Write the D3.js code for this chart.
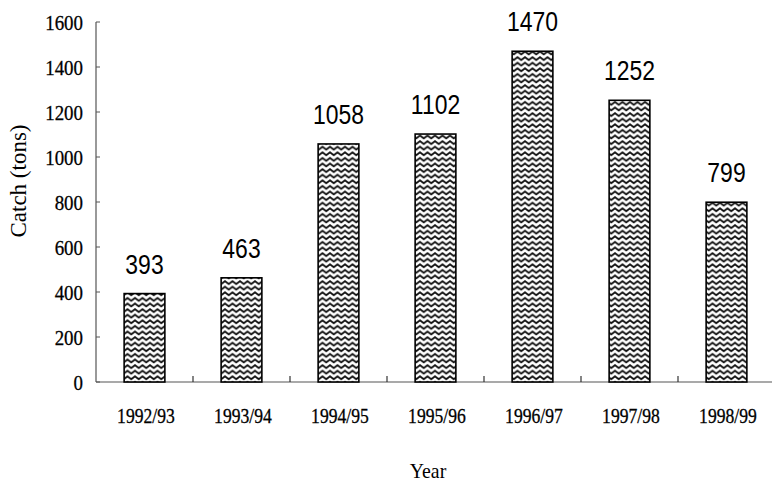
<!DOCTYPE html>
<html><head><meta charset="utf-8">
<script src="https://cdn.jsdelivr.net/npm/d3@7"></script>
<style>body{margin:0;background:#fff}svg{display:block}</style>
</head><body>
<script>
const categories = ["1992/93","1993/94","1994/95","1995/96","1996/97","1997/98","1998/99"];
const catch_tons = [393,463,1058,1102,1470,1252,799];
const yTicks = [0,200,400,600,800,1000,1200,1400,1600];

const W = 772, H = 483;
const svg = d3.select("body").append("svg").attr("width",W).attr("height",H);
const defs = svg.append("defs");
const pat = defs.append("pattern").attr("id","zig").attr("patternUnits","userSpaceOnUse")
  .attr("width",7.5).attr("height",5.6);
pat.append("rect").attr("width",7.5).attr("height",5.6).attr("fill","#fff");
pat.append("path").attr("d","M-3.75,4 L0,1.2 L3.75,4 L7.5,1.2 L11.25,4")
  .attr("fill","none").attr("stroke","#111").attr("stroke-width",1.9);

const x = d3.scaleBand().domain(categories).range([96,775]).paddingInner(0.58).paddingOuter(0.29);
const xb = d3.scaleBand().domain(categories).range([96,775]);
const y = d3.scaleLinear().domain([0,1600]).range([382,22]);

const serif = "'Liberation Serif','Times New Roman',serif";
const sans = "'Liberation Sans',Arial,sans-serif";

// axes
svg.append("line").attr("x1",96).attr("x2",96).attr("y1",y(1600)).attr("y2",y(0)).attr("stroke","#555").attr("stroke-width",1.2);
svg.append("line").attr("x1",96).attr("x2",772).attr("y1",y(0)).attr("y2",y(0)).attr("stroke","#555").attr("stroke-width",1.2);
svg.selectAll(".yt").data(yTicks).enter().append("line")
  .attr("x1",96).attr("x2",100).attr("y1",d=>y(d)).attr("y2",d=>y(d)).attr("stroke","#555");
svg.selectAll(".xt").data(categories.slice(1)).enter().append("line")
  .attr("x1",d=>xb(d)).attr("x2",d=>xb(d)).attr("y1",y(0)).attr("y2",y(0)-6).attr("stroke","#333").attr("stroke-width",1.2);

svg.selectAll(".yl").data(yTicks).enter().append("text")
  .attr("transform",d=>`translate(83,${y(d)+7.5}) scale(0.86,1)`)
  .attr("text-anchor","end").attr("font-family",serif).attr("font-size",22)
  .attr("stroke","#000").attr("stroke-width",0.3)
  .text(d=>d);

svg.selectAll(".xl").data(categories).enter().append("text")
  .attr("transform",d=>`translate(${xb(d)+xb.bandwidth()/2+1.5},423) scale(0.84,1)`)
  .attr("text-anchor","middle").attr("font-family",serif).attr("font-size",21)
  .attr("stroke","#000").attr("stroke-width",0.3)
  .text(d=>d);

svg.append("text").attr("transform","translate(26,181) rotate(-90)")
  .attr("text-anchor","middle").attr("font-family",serif).attr("font-size",23).text("Catch (tons)");
svg.append("text").attr("transform","translate(428,478) scale(0.9,1)")
  .attr("text-anchor","middle").attr("font-family",serif).attr("font-size",22).text("Year");

// bars
svg.selectAll(".bar").data(categories).enter().append("rect")
  .attr("x",d=>x(d)).attr("width",x.bandwidth())
  .attr("y",(d,i)=>y(catch_tons[i])).attr("height",(d,i)=>y(0)-y(catch_tons[i]))
  .attr("fill","url(#zig)").attr("stroke","#000").attr("stroke-width",1.6);

svg.selectAll(".vl").data(categories).enter().append("text")
  .attr("transform",(d,i)=>`translate(${x(d)+x.bandwidth()/2},${y(catch_tons[i])-20}) scale(0.85,1)`)
  .attr("text-anchor","middle").attr("font-family",sans).attr("font-size",27)
  .text((d,i)=>catch_tons[i]);
</script>
</body></html>
